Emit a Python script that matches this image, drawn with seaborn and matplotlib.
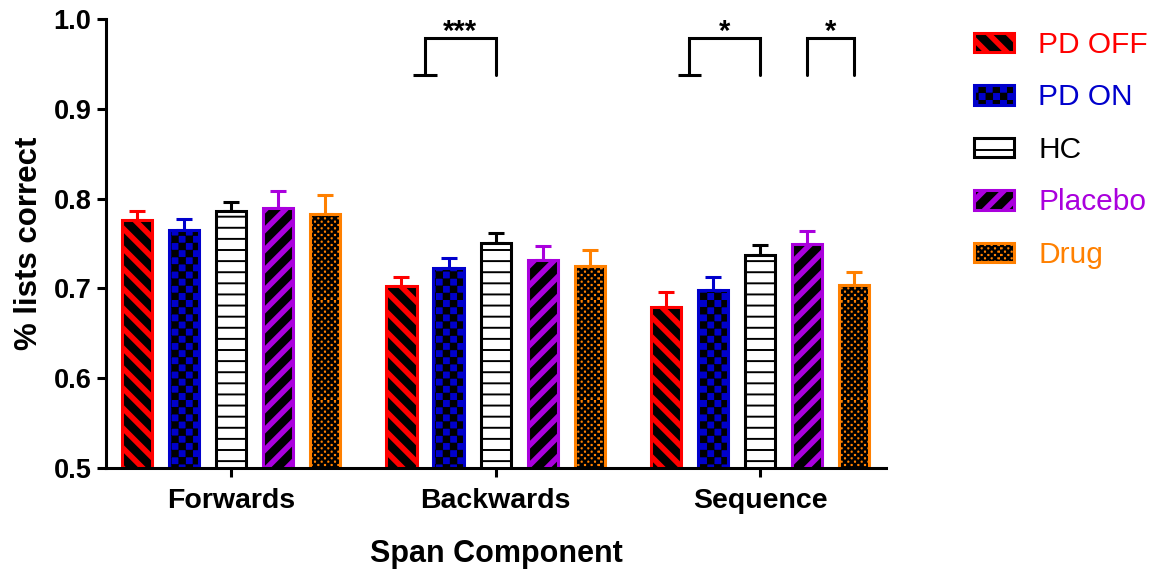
import numpy as np
import pandas as pd
import seaborn as sns
import matplotlib.pyplot as plt
import matplotlib.patches as mpatches
import matplotlib.hatch as mhatch
from matplotlib.path import Path
from matplotlib.container import BarContainer

# Dữ liệu
components = ['Forwards', 'Backwards', 'Sequence']
groups = ['PD OFF', 'PD ON', 'HC', 'Placebo', 'Drug']
colors = ['#ff0000', '#0000cc', '#000000', '#aa00dd', '#ff8000']
face_colors = ['#ff0000', '#0000cc', '#ffffff', '#aa00dd', '#ff8000']
hatches = ['\\', '+', '-', '/', 'x']

mean_forwards = [0.776, 0.765, 0.786, 0.790, 0.783]
mean_backwards = [0.703, 0.723, 0.751, 0.732, 0.725]
mean_sequence = [0.679, 0.698, 0.737, 0.749, 0.704]
sem_forwards = [0.010, 0.012, 0.010, 0.018, 0.021]
sem_backwards = [0.010, 0.011, 0.011, 0.015, 0.018]
sem_sequence = [0.017, 0.015, 0.011, 0.015, 0.014]

# Đánh dấu ý nghĩa thống kê
sig_labels = ['***', '*', '*']
bracket_top = 0.979
bracket_bottom = 0.938

df = pd.DataFrame({
    'component': np.repeat(components, len(groups)),
    'group': groups * len(components),
    'value': mean_forwards + mean_backwards + mean_sequence,
    'sem': sem_forwards + sem_backwards + sem_sequence,
})


# Mẫu hatch tự vẽ (sọc dày, caro)
def stripes(n, frac, rising):
    w = frac / n
    polys = []
    for k in range(-n - 1, n + 1):
        a = k / n
        if rising:
            polys.append([(a, 0), (a + w, 0), (a + w + 1, 1), (a + 1, 1)])
        else:
            polys.append([(a, 1), (a + w, 1), (a + w + 1, 0), (a + 1, 0)])
    return [(p, True) for p in polys]


def checker(n, shrink=0.008):
    s = 1 / n
    out = []
    for i in range(n):
        for j in range(n):
            if (i + j) % 2 == 0:
                x0, y0 = i * s + shrink, j * s + shrink
                x1, y1 = (i + 1) * s - shrink, (j + 1) * s - shrink
                out.append(([(x0, y0), (x1, y0), (x1, y1), (x0, y1)], True))
    return out


def hlines(n):
    return [([(0, (k + 0.5) / n), (1, (k + 0.5) / n)], False) for k in range(n)]


HATCH_SHAPES = {
    '\\': stripes(5, 0.47, False),
    '/': stripes(5, 0.47, True),
    '+': checker(14),
    'x': checker(30, 0.004),
    '-': hlines(9),
}


class PatternHatch(mhatch.HatchPatternBase):
    def __init__(self, hatch, density):
        self.shapes = HATCH_SHAPES.get(hatch, [])
        self.num_vertices = sum(len(p) + (1 if closed else 0) for p, closed in self.shapes)

    def set_vertices_and_codes(self, vertices, codes):
        i = 0
        for pts, closed in self.shapes:
            for k, pt in enumerate(pts):
                vertices[i] = pt
                codes[i] = Path.MOVETO if k == 0 else Path.LINETO
                i += 1
            if closed:
                vertices[i] = pts[0]
                codes[i] = Path.CLOSEPOLY
                i += 1


mhatch._hatch_types = [PatternHatch]

sns.set_style('ticks')
plt.rcParams['font.family'] = ['Liberation Sans', 'DejaVu Sans']
plt.rcParams['hatch.linewidth'] = 1.4
plt.rcParams['text.color'] = 'black'
plt.rcParams['axes.labelcolor'] = 'black'
plt.rcParams['xtick.color'] = 'black'
plt.rcParams['ytick.color'] = 'black'

fig = plt.figure(figsize=(11.56, 5.72), dpi=100)
ax = fig.add_axes([106 / 1156, 1 - 468 / 572, 780 / 1156, 449 / 572])

sns.barplot(data=df, x='component', y='value', hue='group', order=components,
            hue_order=groups, palette=face_colors, width=0.89, gap=0.36,
            errorbar=None, legend=False, ax=ax)

sems = {'Forwards': sem_forwards, 'Backwards': sem_backwards, 'Sequence': sem_sequence}
bar_conts = [c for c in ax.containers if isinstance(c, BarContainer)]
centers = {}
for gi, cont in enumerate(bar_conts):
    for ci, bar in enumerate(cont):
        bar.set_facecolor(face_colors[gi])
        bar.set_edgecolor(colors[gi])
        bar.set_linewidth(2.2)
        bar.set_hatch(hatches[gi])
        bar._hatch_color = (0, 0, 0, 1)
        xc = bar.get_x() + bar.get_width() / 2
        centers[(ci, gi)] = xc
        ax.errorbar(xc, bar.get_height(), yerr=[[0], [sems[components[ci]][gi]]],
                    color=colors[gi], elinewidth=2.2, capsize=5.6, capthick=2.2,
                    zorder=0.5)

ax.set_ylim(0.5, 1.0)
ax.set_xlim(-0.473, 2.476)
ax.set_yticks(np.arange(0.5, 1.01, 0.1))
ax.set_yticklabels([f'{v:.1f}' for v in np.arange(0.5, 1.01, 0.1)],
                   fontsize=19.5, fontweight='bold')
ax.set_xticks(range(len(components)))
ax.set_xticklabels(components, fontsize=20.5, fontweight='bold')
ax.set_ylabel('% lists correct', fontsize=22.5, fontweight='bold', labelpad=7)
ax.set_xlabel('Span Component', fontsize=22, fontweight='bold', labelpad=18)
ax.tick_params(axis='both', width=2.2, length=6.5, color='black', labelcolor='black', pad=4)
ax.tick_params(axis='x', pad=8)
for side in ['top', 'right']:
    ax.spines[side].set_visible(False)
for side in ['left', 'bottom']:
    ax.spines[side].set_linewidth(2.2)
    ax.spines[side].set_color('black')

# Ngoặc ý nghĩa
brackets = [
    ((centers[(1, 0)] + centers[(1, 1)]) / 2, centers[(1, 2)], True),
    ((centers[(2, 0)] + centers[(2, 1)]) / 2, centers[(2, 2)], True),
    (centers[(2, 3)], centers[(2, 4)], False),
]
for (x0, x1, foot), lab in zip(brackets, sig_labels):
    ax.plot([x0, x0, x1, x1], [bracket_bottom, bracket_top, bracket_top, bracket_bottom],
            color='black', lw=2.2, solid_joinstyle='miter', clip_on=False)
    if foot:
        ax.plot([x0 - 0.045, x0 + 0.045], [bracket_bottom, bracket_bottom],
                color='black', lw=2.2, solid_capstyle='butt', clip_on=False)
    ax.text((x0 + x1) / 2, bracket_top - 0.002, lab, ha='center', va='baseline',
            fontsize=21, fontweight='bold', color='black')

# Chú thích
handles = []
for gi in range(len(groups)):
    h = mpatches.Rectangle((0, 0), 1, 1, facecolor=face_colors[gi], edgecolor=colors[gi],
                           hatch=hatches[gi], linewidth=2.2)
    h._hatch_color = (0, 0, 0, 1)
    handles.append(h)
leg = fig.legend(handles, groups, loc='upper left', bbox_to_anchor=(974 / 1156, 1 - 31 / 572),
                 frameon=False, fontsize=21.5, handlelength=1.33, handleheight=0.63,
                 handletextpad=0.83, labelspacing=0.82, borderaxespad=0, borderpad=0)
for txt, c in zip(leg.get_texts(), colors):
    txt.set_color(c)

plt.savefig('out.png', dpi=100)
